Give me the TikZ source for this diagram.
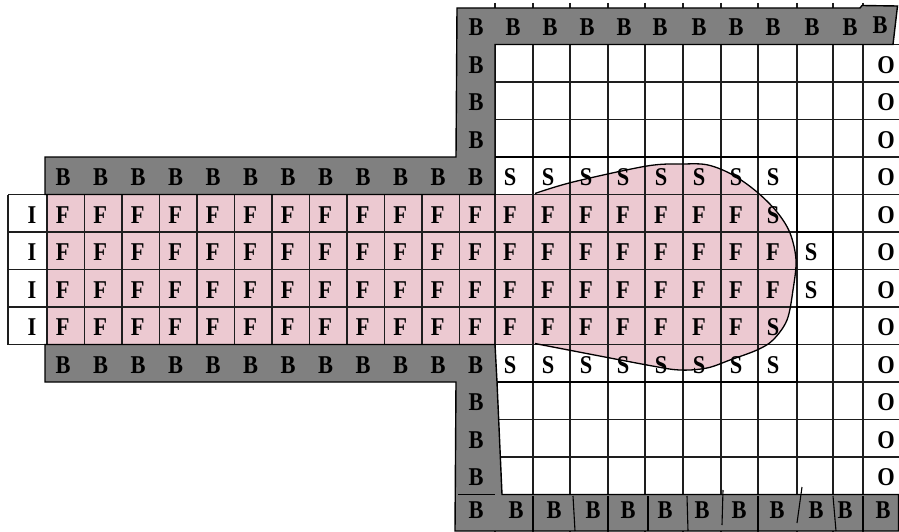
\documentclass[tikz,border=0pt]{standalone}
\usepackage{fontspec}
\setmainfont{Liberation Serif}
\definecolor{pinkfill}{RGB}{236,201,209}
\definecolor{grayfill}{RGB}{128,128,128}
\definecolor{gridcol}{RGB}{30,30,30}
\newcommand\cellchar[1]{\scalebox{1.12}[1.28]{#1}}
\begin{document}
\begin{tikzpicture}[x=1pt,y=-1pt,
  gridline/.style={draw=gridcol, line width=1.1pt},
  graybar/.style={fill=grayfill, draw=black, line width=1.4pt, line join=miter},
  lbl/.style={font=\fontsize{20}{24}\selectfont\bfseries, inner sep=0pt, anchor=base},
  thickbox/.style={draw=black, line width=2.6pt, line join=miter},
  blobline/.style={draw=black, line width=1.3pt},
  sepline/.style={draw=black, line width=1.1pt},
]
\useasboundingbox (0,0) rectangle (899,532);
\fill[white] (0,0) rectangle (899,532);
% pink fluid region
\fill[pinkfill] (47,194.5) -- plot[smooth,tension=0.55] coordinates {(535,194.5) (573,182) (647,166) (683,164) (708,165) (733,175) (757,192) (777,212) (790,233) (796,260) (793,290) (787,320) (773,340) (757,350) (730,360) (707,368) (680,370) (647,365) (535,344.5)} -- (47,344.5) -- cycle;
% grid lines
\foreach \k in {5,...,9} \draw[gridline] (8,{7+37.5*\k}) -- (899,{7+37.5*\k});
\foreach \k in {1,...,13} \draw[gridline] (495,{7+37.5*\k}) -- (899,{7+37.5*\k});
\draw[gridline] (8,194.5) -- (8,344.5);
\foreach \j in {0,...,11} \draw[gridline] ({47+37.5*\j},194.5) -- ({47+37.5*\j},344.5);
\foreach \x in {495,533,570,608,645,683,721,758,797,833,863} \draw[gridline] (\x,3) -- (\x,532);
% gray boundary shapes
\draw[graybar] (45,157) -- (456,157) -- (457,8) -- (860,8) -- (862,5.5) -- (897.5,6) -- (893,44.5) -- (495,44.5) -- (495,194.5) -- (45,194.5) -- cycle;
\draw[graybar] (45,344.5) -- (495,344.5) -- (497,382) -- (502,494.5) -- (898.5,494.5) -- (898.5,531) -- (455,531) -- (456,382) -- (45,382) -- cycle;
% separators in bottom bar
\draw[sepline] (458,494.5) -- (495,494.5);
\draw[sepline] (533,496) -- (533,531);
\draw[sepline] (573,496) -- (575,531);
\draw[sepline] (608,496) -- (608,531);
\draw[sepline] (648,496) -- (648,531);
\draw[sepline] (687,496) -- (688,531);
\draw[sepline] (723,490) -- (722,525);
\draw[sepline] (758,496) -- (758,531);
\draw[sepline] (802,487) -- (797,523);
\draw[sepline] (833,496) -- (836,531);
\draw[sepline] (863,496) -- (863,531);
% blob outline
\draw[blobline] plot[smooth,tension=0.55] coordinates {(535,193.5) (573,182) (647,166) (683,164) (708,165) (733,175) (757,192) (777,212) (790,233) (796,260) (793,290) (787,320) (773,340) (757,350) (730,360) (707,368) (680,370) (647,365) (535,343.5)};
% thick outline of the S region
\draw[thickbox] (495,157) -- (797,157) -- (797,232) -- (833,232) -- (833,307) -- (797,307) -- (797,382) -- (497,382);
% labels: top row
\node[lbl] (t0) at (476,35.75) {\cellchar{B}};
\foreach \x [count=\c] in {513,550,587,624,660,699,736,773,812,850} \node[lbl] (t\c) at (\x,35.75) {\cellchar{B}};
\node[lbl] (t11) at (880,33.5) {\cellchar{B}};
% vertical boundary column
\foreach \k in {1,2,3,10,11,12} \node[lbl] (v\k) at (476,{7+37.5*\k+28.75}) {\cellchar{B}};
% O column
\foreach \k in {1,...,12} \node[lbl] (o\k) at (886,{7+37.5*\k+28.75}) {\cellchar{O}};
% B rows of the channel
\foreach \j in {0,...,11} {
  \node[lbl] (bu\j) at ({63+37.5*\j},185.75) {\cellchar{B}};
  \node[lbl] (bl\j) at ({63+37.5*\j},373.25) {\cellchar{B}};
}
% S rows
\foreach \x [count=\c] in {510,548,586,623,661,699,736,773} {
  \node[lbl] (su\c) at (\x,185.75) {\cellchar{S}};
  \node[lbl] (sl\c) at (\x,373.25) {\cellchar{S}};
}
% inlet column
\foreach \k in {5,...,8} \node[lbl] (i\k) at (32,{7+37.5*\k+28.75}) {\cellchar{I}};
% fluid rows
\foreach \k in {5,...,8} {
  \foreach \j in {0,...,11} \node[lbl] (f\k-\j) at ({62.75+37.5*\j},{7+37.5*\k+28.75}) {\cellchar{F}};
  \foreach \x [count=\c] in {510,548,586,623,661,699,736} \node[lbl] (g\k-\c) at (\x,{7+37.5*\k+28.75}) {\cellchar{F}};
}
\node[lbl] (s5) at (773,223.25) {\cellchar{S}};
\node[lbl] (f6) at (773,260.75) {\cellchar{F}};
\node[lbl] (f7) at (773,298.25) {\cellchar{F}};
\node[lbl] (s8) at (773,335.75) {\cellchar{S}};
\node[lbl] (s6) at (811,260.75) {\cellchar{S}};
\node[lbl] (s7) at (811,298.25) {\cellchar{S}};
% bottom row
\node[lbl] (w0) at (476,518.5) {\cellchar{B}};
\foreach \x [count=\c] in {516,554,593,628,665,702,739,777,816,845,883} \node[lbl] (w\c) at (\x,518.5) {\cellchar{B}};
\end{tikzpicture}
\end{document}
